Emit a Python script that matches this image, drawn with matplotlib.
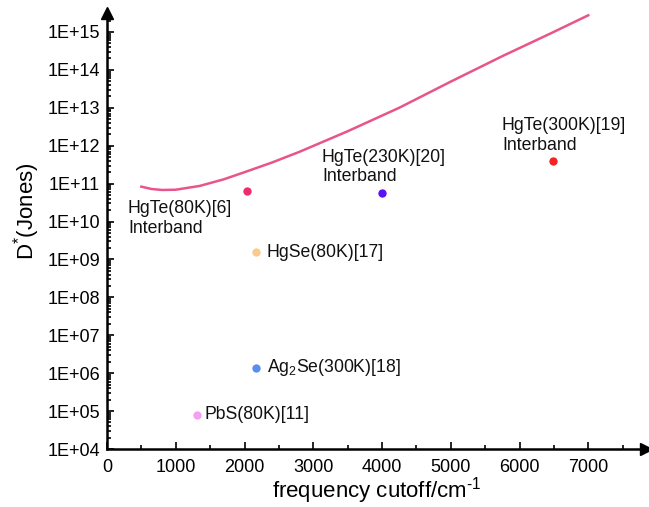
import numpy as np
import matplotlib
matplotlib.use("Agg")
import matplotlib.pyplot as plt
from matplotlib.ticker import LogLocator, MultipleLocator, FixedLocator

plt.rcParams['font.family'] = ['Liberation Sans', 'DejaVu Sans']
plt.rcParams['mathtext.fontset'] = 'custom'
plt.rcParams['mathtext.rm'] = 'Liberation Sans'
plt.rcParams['mathtext.it'] = 'Liberation Sans:italic'
plt.rcParams['mathtext.bf'] = 'Liberation Sans:bold'

# theoretical limit curve
curve_x = [500, 650, 800, 1000, 1350, 1700, 2000, 2400, 2800, 3500, 4250, 5000, 5750, 6450, 7000]
curve_d = [8.3e10, 7.2e10, 6.8e10, 6.9e10, 8.7e10, 1.3e11, 2.0e11, 3.6e11, 6.9e11,
           2.4e12, 1.0e13, 4.9e13, 2.3e14, 9.1e14, 2.75e15]

# reported detectors
labels = ['HgTe(80K)[6]\nInterband', r'HgSe(80K)[17]', r'Ag$_\mathregular{2}$Se(300K)[18]',
          'PbS(80K)[11]', 'HgTe(230K)[20]\nInterband', 'HgTe(300K)[19]\nInterband']
pt_x = [2036, 2167, 2167, 1309, 3999, 6486]
pt_d = [6.2e10, 1.55e9, 1.4e6, 7.9e4, 5.6e10, 4.0e11]
colors = ['#f22a6d', '#fcca8c', '#5b8cf0', '#f5a0f0', '#5a12f0', '#f52222']
# label offsets in pixels (dx, dy)
offsets = [(-119, -27), (11, 0), (11, 0), (8, 0), (-60, 26), (-51, 25)]

fig = plt.figure(figsize=(6.49, 5.07), dpi=100)
ax = fig.add_axes([107/649, 58/507, 539/649, 436/507])

ax.plot(curve_x, curve_d, color='#e8558a', lw=1.8, zorder=2)
for x, d, c, lab, off in zip(pt_x, pt_d, colors, labels, offsets):
    ax.plot(x, d, 'o', color=c, ms=6, mec='none', zorder=3)
    ax.annotate(lab, (x, d), xytext=off, textcoords='offset pixels',
                ha='left', va='center', fontsize=12.7, color='#111111')

ax.set_yscale('log')
ax.set_xlim(0, 7840)
ax.set_ylim(1e4, 10**15.5)

ax.yaxis.set_major_locator(FixedLocator([10.0**k for k in range(4, 16)]))
ax.yaxis.set_minor_locator(LogLocator(base=10, subs=np.arange(2, 10), numticks=30))
ax.set_yticklabels(['1E+%02d' % k for k in range(4, 16)])
ax.xaxis.set_major_locator(FixedLocator(range(0, 8000, 1000)))
ax.xaxis.set_minor_locator(MultipleLocator(500))

ax.tick_params(which='both', direction='in', width=1.2, labelsize=13, colors='black')
ax.tick_params(which='major', length=5)
ax.tick_params(which='minor', length=3)
ax.tick_params(axis='y', pad=5)
ax.tick_params(axis='x', pad=7)

for s in ['top', 'right']:
    ax.spines[s].set_visible(False)
for s in ['left', 'bottom']:
    ax.spines[s].set_linewidth(1.8)

# arrow heads
ax.plot(1, 0, '>', color='black', ms=9, transform=ax.transAxes, clip_on=False)
ax.plot(0, 1, '^', color='black', ms=9, transform=ax.transAxes, clip_on=False)

ax.set_xlabel('frequency cutoff/cm$^{\\text{-1}}$', fontsize=16)
ax.set_ylabel('D$^{\\mathregular{*}}$(Jones)', fontsize=16)
ax.xaxis.label.set_va('center')
ax.yaxis.label.set_va('center')
ax.xaxis.set_label_coords(0.5, -0.096)
ax.yaxis.set_label_coords(-0.15, 0.546)

fig.savefig('out.png', dpi=100)
